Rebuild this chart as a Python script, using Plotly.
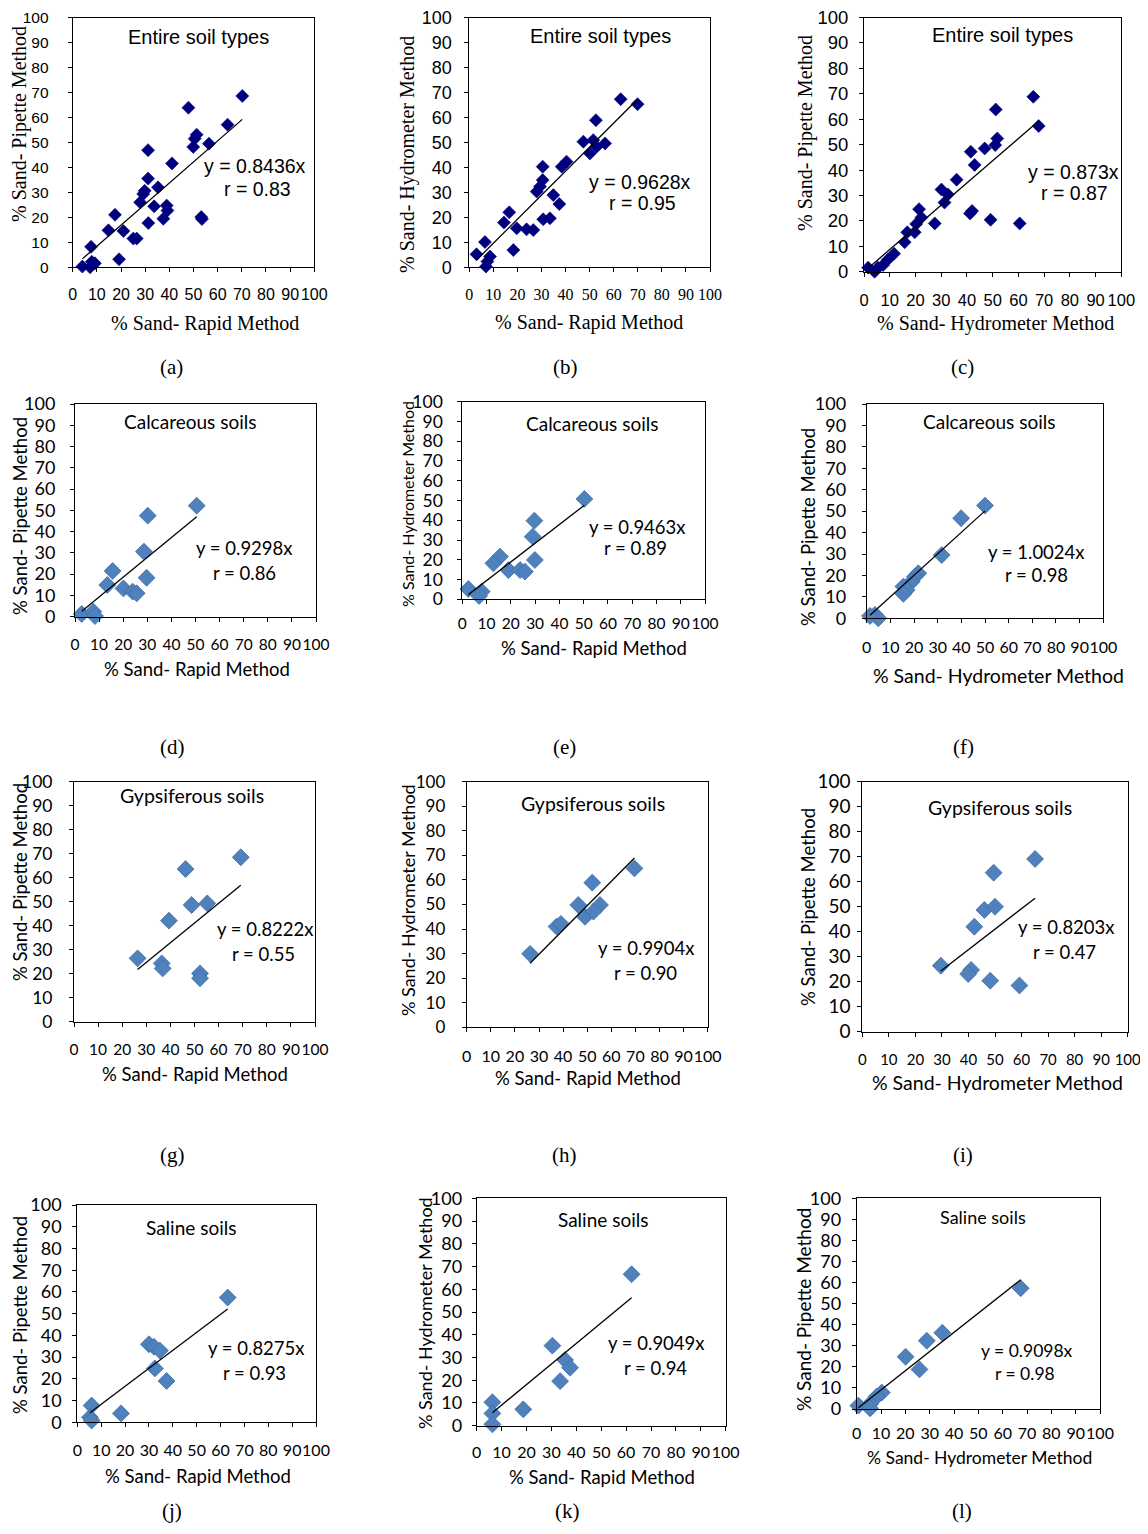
import plotly.graph_objects as go

W, H = 1148, 1534          # reference picture size
OFF = 8                    # browser body margin
FW, FH = W - 2 * OFF, H - 2 * OFF

# ---------------- data ----------------
# (a) Entire soil types: Rapid (x) vs Pipette (y)
a_x = [70.2, 47.9, 64.1, 51.3, 50.5, 49.9, 56.4, 31.2, 41.1, 31.2, 35.3, 29.8, 29.2, 27.9, 33.7, 38.9,
       39.2, 37.5, 31.3, 53.2, 53.5, 17.5, 14.8, 21.0, 25.1, 26.5, 7.6, 19.2, 4.0, 7.9, 9.2, 7.2]
a_y = [68.6, 63.9, 57.1, 53.1, 51.5, 48.2, 49.5, 46.9, 41.6, 35.5, 32.0, 30.6, 29.3, 26.0, 24.4, 24.7,
       22.7, 19.4, 17.7, 20.1, 19.3, 21.0, 14.8, 14.5, 11.5, 11.5, 8.2, 3.2, 0.3, 2.2, 1.6, 0.0]
# (b) Entire soil types: Rapid (x) vs Hydrometer (y)
b_x = [62.9, 69.9, 52.6, 47.4, 51.5, 56.4, 50.1, 52.9, 40.4, 38.4, 30.5, 30.5, 28.0, 29.4, 34.9,
       37.4, 16.6, 14.4, 19.7, 23.8, 26.6, 30.7, 33.5, 18.3, 6.5, 3.0, 8.6, 6.9, 7.5]
b_y = [67.3, 65.3, 58.9, 50.3, 50.9, 49.6, 45.6, 48.3, 42.3, 40.3, 40.3, 34.9, 30.3, 32.3, 28.9,
       25.3, 22.0, 17.9, 15.6, 15.2, 14.9, 19.2, 19.6, 6.9, 10.1, 5.2, 4.3, 0.3, 2.3]
# (c) Entire soil types: Hydrometer (x) vs Pipette (y)
c_x = [65.8, 67.9, 51.2, 51.8, 51.0, 46.9, 41.5, 43.0, 36.0, 30.1, 32.6, 31.3, 41.2, 42.0, 49.2,
       60.5, 27.5, 21.4, 22.3, 20.3, 19.7, 16.8, 15.8, 11.7, 9.3, 7.4, 5.4, 1.6, 4.1]
c_y = [68.8, 57.3, 63.8, 52.4, 49.8, 48.5, 47.2, 42.0, 36.2, 32.3, 30.4, 27.2, 22.9, 23.9, 20.4,
       19.0, 19.0, 24.6, 21.3, 18.8, 15.5, 15.5, 11.6, 7.1, 4.8, 2.6, 1.6, 1.6, 0.0]
# (d) Calcareous soils: Rapid vs Pipette
d_x = [50.5, 30.2, 28.6, 29.7, 15.6, 13.4, 20.1, 23.9, 25.6, 2.8, 7.6, 8.3]
d_y = [52.2, 47.5, 30.6, 18.3, 21.5, 14.9, 13.3, 11.8, 11.0, 1.3, 2.4, 0.3]
# (e) Calcareous soils: Rapid vs Hydrometer
e_x = [50.3, 29.7, 29.0, 29.9, 15.5, 12.8, 19.0, 23.8, 25.8, 2.5, 8.0, 6.9]
e_y = [50.8, 39.8, 31.7, 19.9, 21.6, 18.2, 14.8, 14.8, 14.0, 5.2, 3.9, 1.7]
# (f) Calcareous soils: Hydrometer vs Pipette
f_x = [50.0, 39.9, 31.7, 21.8, 20.4, 19.0, 15.5, 16.9, 15.5, 3.5, 4.9, 1.4]
f_y = [52.6, 46.7, 29.5, 21.0, 19.4, 17.1, 14.8, 13.2, 11.4, 1.6, 0.0, 1.1]
# (g) Gypsiferous soils: Rapid vs Pipette
g_x = [69.2, 46.3, 48.8, 55.3, 39.4, 26.4, 36.4, 36.8, 52.3, 52.3]
g_y = [68.5, 63.6, 48.6, 49.3, 42.1, 26.4, 24.3, 22.2, 20.1, 18.1]
# (h) Gypsiferous soils: Rapid vs Hydrometer
h_x = [69.6, 52.1, 46.3, 55.3, 49.1, 52.6, 37.3, 39.1, 26.3]
h_y = [64.7, 58.9, 49.8, 49.8, 45.0, 47.1, 41.0, 42.1, 29.9]
# (i) Gypsiferous soils: Hydrometer vs Pipette
i_x = [65.1, 49.5, 46.0, 50.0, 42.2, 29.6, 41.0, 39.9, 48.2, 59.2]
i_y = [69.1, 63.6, 48.7, 50.0, 42.0, 26.4, 24.7, 23.1, 20.4, 18.5]
# (j) Saline soils: Rapid vs Pipette
j_x = [63.0, 30.0, 32.1, 34.6, 32.5, 37.4, 18.3, 6.0, 5.3, 6.0]
j_y = [57.4, 35.9, 34.8, 33.0, 24.8, 19.0, 4.1, 7.7, 2.3, 0.8]
# (k) Saline soils: Rapid vs Hydrometer
k_x = [62.2, 30.4, 35.5, 37.5, 33.5, 18.7, 6.3, 6.3, 6.3]
k_y = [66.6, 35.2, 28.9, 25.5, 19.6, 7.2, 10.3, 5.4, 0.6]
# (l) Saline soils: Hydrometer vs Pipette
l_x = [67.4, 35.2, 28.8, 20.1, 25.8, 10.3, 8.2, 5.5, 0.7, 5.5]
l_y = [57.3, 36.2, 32.4, 24.8, 18.8, 7.8, 5.9, 2.4, 1.6, 0.3]

slopes = [0.8436, 0.9628, 0.873, 0.9298, 0.9463, 1.0024, 0.8222, 0.9904, 0.8203, 0.8275, 0.9049, 0.9098]
r_values = ["0.83", "0.95", "0.87", "0.86", "0.89", "0.98", "0.55", "0.90", "0.47", "0.93", "0.94", "0.98"]
group_titles = ["Entire soil types"] * 3 + ["Calcareous soils"] * 3 + ["Gypsiferous soils"] * 3 + ["Saline soils"] * 3
x_titles = ["% Sand- Rapid Method", "% Sand- Rapid Method", "% Sand- Hydrometer Method"] * 4
y_titles = ["% Sand- Pipette Method", "% Sand- Hydrometer Method", "% Sand- Pipette Method"] * 4
captions = ["(a)", "(b)", "(c)", "(d)", "(e)", "(f)", "(g)", "(h)", "(i)", "(j)", "(k)", "(l)"]
tick_values = list(range(0, 101, 10))
tick_labels = [str(v) for v in tick_values]

xs = [a_x, b_x, c_x, d_x, e_x, f_x, g_x, h_x, i_x, j_x, k_x, l_x]
ys = [a_y, b_y, c_y, d_y, e_y, f_y, g_y, h_y, i_y, j_y, k_y, l_y]

# ---------------- styling / layout (pixel geometry of the reference) ----------------
TIMES = "Liberation Serif"
ARIAL = "Liberation Sans"
CALI = "Lato"

# plot box: left, right, top, bottom (px)
boxes = [
    (72.7, 314.3, 17.5, 267.3), (469.3, 710, 17.5, 267.3), (864, 1121.3, 17.5, 271.7),
    (75, 316, 404, 616.7), (462.3, 705, 401.7, 599.3), (866.7, 1103.3, 404, 618.3),
    (74, 315, 781.7, 1021.7), (466.7, 707.7, 781.7, 1027.3), (862.3, 1127.7, 781.7, 1031.7),
    (77.3, 316, 1205, 1422.3), (476.7, 725.7, 1198.3, 1425.7), (856.7, 1100, 1198.3, 1409),
]
# per-panel: xtick font, size, ytick font, size, x tick label centre offset, y label gap
tick_style = [
    (ARIAL, 16, ARIAL, 15.5, 23.4, 22), (TIMES, 16, ARIAL, 18, 22.7, 15), (ARIAL, 16.5, ARIAL, 18.5, 24.3, 13.3),
    (CALI, 15.5, CALI, 18, 25, 16.7), (CALI, 15.5, CALI, 17.5, 20.7, 17), (CALI, 16, CALI, 18, 25, 17.7),
    (CALI, 15.5, CALI, 17.5, 24.3, 19), (CALI, 16, CALI, 17, 25.4, 19), (CALI, 15, CALI, 19, 24.3, 9),
    (CALI, 16, CALI, 18, 24.4, 13.3), (CALI, 16, CALI, 18, 22.6, 11.7), (CALI, 16, CALI, 18, 21, 13.4),
]
# text centres (px): group title, eq line, r line, x title, y title, caption
text_pos = [
    dict(t=(198, 37), eq=(255, 166), r=(257, 189), xt=(205, 323), yt=(20, 124), cap=(171, 367)),
    dict(t=(601, 36), eq=(640, 182), r=(642, 203), xt=(589, 322), yt=(407, 155), cap=(565, 367)),
    dict(t=(1002, 35), eq=(1073, 172), r=(1074, 193), xt=(995, 323), yt=(805, 133), cap=(962, 367)),
    dict(t=(190, 422), eq=(244, 548), r=(244, 573), xt=(197, 669), yt=(20, 516), cap=(172, 747)),
    dict(t=(592, 423), eq=(637, 527), r=(635, 548), xt=(594, 648), yt=(407, 504), cap=(564, 747)),
    dict(t=(989, 422), eq=(1036, 552), r=(1036, 575), xt=(998, 675), yt=(808, 527), cap=(963, 747)),
    dict(t=(192, 795), eq=(265, 929), r=(263, 954), xt=(195, 1074), yt=(20, 882), cap=(172, 1155)),
    dict(t=(593, 803), eq=(646, 948), r=(645, 973), xt=(588, 1078), yt=(408, 900), cap=(564, 1155)),
    dict(t=(1000, 807), eq=(1066, 927), r=(1064, 952), xt=(997, 1082), yt=(808, 907), cap=(963, 1155)),
    dict(t=(191, 1227), eq=(256, 1348), r=(254, 1373), xt=(198, 1476), yt=(20, 1315), cap=(172, 1511)),
    dict(t=(603, 1219), eq=(656, 1343), r=(655, 1368), xt=(602, 1477), yt=(425, 1313), cap=(567, 1511)),
    dict(t=(983, 1217), eq=(1027, 1350), r=(1025, 1373), xt=(979, 1457), yt=(803, 1310), cap=(962, 1511)),
]
# fonts: group title, equation, x title, y title
text_font = [
    (ARIAL, 20, ARIAL, 19.5, TIMES, 20, TIMES, 20),
    (ARIAL, 20, ARIAL, 19.5, TIMES, 20, TIMES, 20),
    (ARIAL, 20, ARIAL, 19.5, TIMES, 20, TIMES, 20),
    (CALI, 19, CALI, 18.5, CALI, 18.5, CALI, 18.5),
    (CALI, 19, CALI, 18.5, CALI, 18.5, CALI, 16),
    (CALI, 19, CALI, 18.5, CALI, 19.5, CALI, 18.5),
    (CALI, 19.5, CALI, 18.5, CALI, 18.5, CALI, 18.5),
    (CALI, 19.5, CALI, 18.5, CALI, 18.5, CALI, 18),
    (CALI, 19.5, CALI, 18.5, CALI, 19.5, CALI, 18.5),
    (CALI, 19, CALI, 18.5, CALI, 18.5, CALI, 18.5),
    (CALI, 19, CALI, 18.5, CALI, 18.5, CALI, 18),
    (CALI, 18, CALI, 17.5, CALI, 17.5, CALI, 19),
]
NAVY = "#00007F"
STEEL = "#4F81BD"


def pxx(px):
    return (px - OFF) / FW


def pxy(py):
    return 1 - (py - OFF) / FH


def ann(px, py, text, family, size, angle=0):
    return dict(x=pxx(px), y=pxy(py), xref="paper", yref="paper", text=text, showarrow=False,
                xanchor="center", yanchor="middle", textangle=angle,
                font=dict(family=family, size=size, color="black"))


fig = go.Figure()
annotations = []
layout_axes = {}
for n in range(12):
    sfx = "" if n == 0 else str(n + 1)
    xr, yr = "x" + sfx, "y" + sfx
    row1 = n < 3
    x, y = xs[n], ys[n]
    fig.add_trace(go.Scatter(
        x=x, y=y, mode="markers", xaxis=xr, yaxis=yr, cliponaxis=False, showlegend=False,
        marker=dict(symbol="diamond", size=10 if row1 else 13,
                    color=NAVY if row1 else STEEL,
                    line=dict(width=0.6 if row1 else 0.8, color=NAVY if row1 else "#3F6EA6")),
    ))
    x0, x1 = min(x), max(x)
    fig.add_trace(go.Scatter(
        x=[x0, x1], y=[slopes[n] * x0, slopes[n] * x1], mode="lines", xaxis=xr, yaxis=yr,
        cliponaxis=False, showlegend=False, line=dict(color="black", width=1.3),
    ))
    L, R, T, B = boxes[n]
    xf, xsz, yf, ysz, xoff, ygap = tick_style[n]
    common = dict(range=[0, 100], tickmode="array", tickvals=tick_values, ticktext=tick_labels,
                  ticks="outside", ticklen=4, tickwidth=1, tickcolor="black", showgrid=False,
                  zeroline=False, showline=True, mirror=True, linecolor="black", linewidth=1,
                  fixedrange=True, tickangle=0, automargin=False, ticklabeloverflow="allow")
    layout_axes["xaxis" + sfx] = dict(common, domain=[pxx(L), pxx(R)], anchor=yr,
                                      tickfont=dict(family=xf, size=xsz, color="black"),
                                      ticklabelstandoff=max(0, int(round(xoff - 4 - xsz * 0.5 - 3))))
    layout_axes["yaxis" + sfx] = dict(common, domain=[pxy(B), pxy(T)], anchor=xr,
                                      tickfont=dict(family=yf, size=ysz, color="black"),
                                      ticklabelstandoff=max(0, int(round(ygap - 4 - 2))))
    p = text_pos[n]
    tf, tsz, ef, esz, xtf, xtsz, ytf, ytsz = text_font[n]
    annotations.append(ann(*p["t"], group_titles[n], tf, tsz))
    annotations.append(ann(*p["eq"], f"y = {slopes[n]}x", ef, esz))
    annotations.append(ann(*p["r"], f"r = {r_values[n]}", ef, esz))
    annotations.append(ann(*p["xt"], x_titles[n], xtf, xtsz))
    annotations.append(ann(*p["yt"], y_titles[n], ytf, ytsz, angle=-90))
    annotations.append(ann(*p["cap"], captions[n], TIMES, 21))

fig.update_layout(
    width=FW, height=FH, margin=dict(l=0, r=0, t=0, b=0, autoexpand=False),
    paper_bgcolor="white", plot_bgcolor="white", showlegend=False,
    annotations=annotations, **layout_axes,
)

fig.write_html("out.html", config={"displayModeBar": False})
